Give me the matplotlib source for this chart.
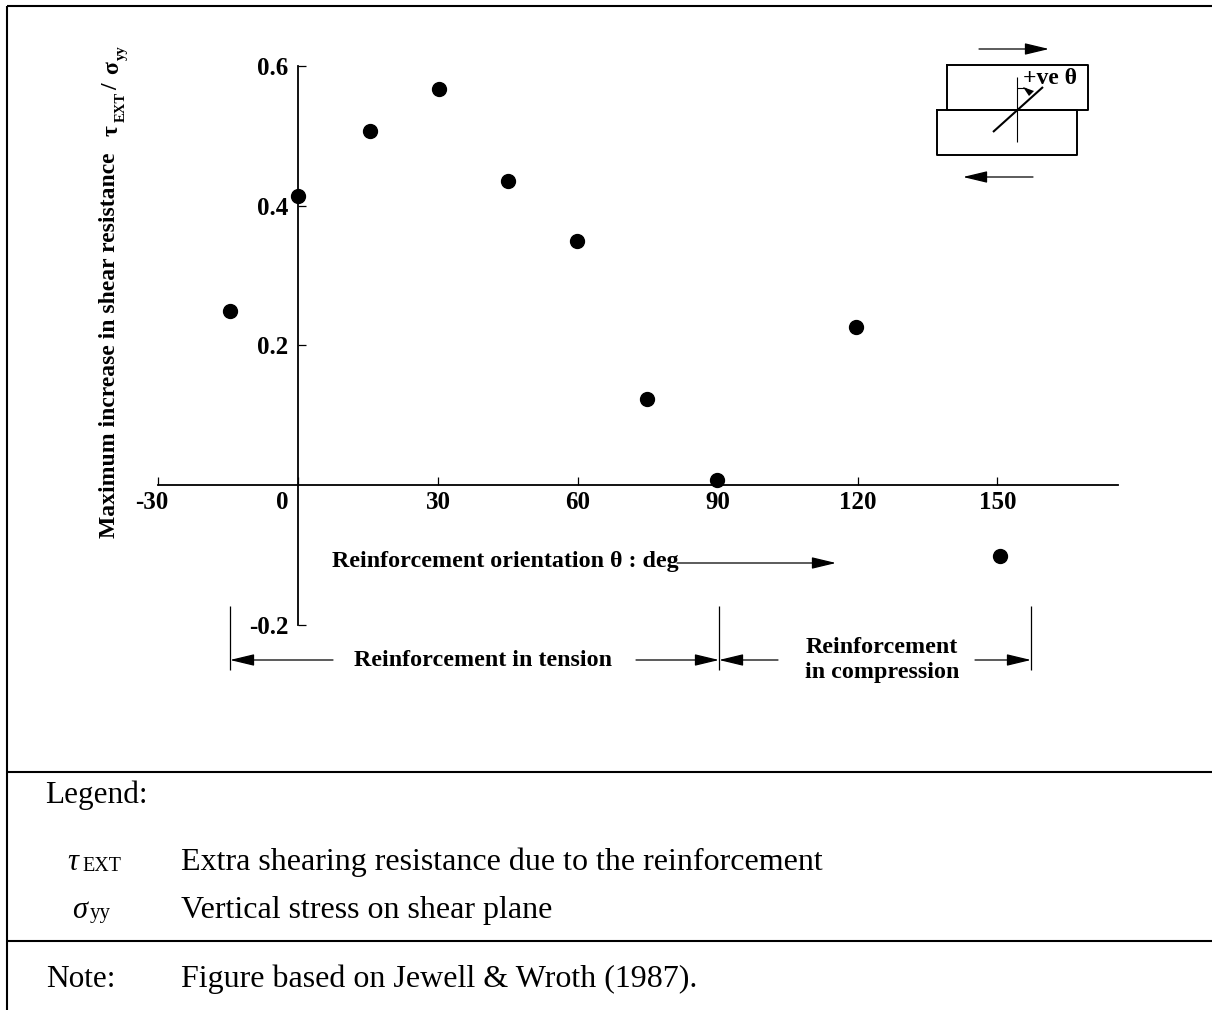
import matplotlib
matplotlib.use('Agg')
import matplotlib.pyplot as plt
from matplotlib.transforms import ScaledTranslation

plt.rcParams['font.family'] = ['Liberation Serif', 'DejaVu Serif']

W, H = 1212, 1010

theta = [-14.7, -0.1, 15.3, 30.2, 45.0, 59.8, 74.8, 89.8, 119.6, 150.5]
increase = [0.249, 0.414, 0.507, 0.567, 0.435, 0.349, 0.123, 0.007, 0.226, -0.102]
x_ticks = [-30, 0, 30, 60, 90, 120, 150]
y_ticks = [-0.2, 0.2, 0.4, 0.6]
y_labels = ['-0.2', '0.2', '0.4', '0.6']

fig = plt.figure(figsize=(W / 100, H / 100), dpi=100)

# overlay in pixel coords for the frame, table text and diagram
bg = fig.add_axes([0, 0, 1, 1])
bg.set_xlim(0, W)
bg.set_ylim(H, 0)
bg.axis('off')

def line(x0, y0, x1, y1, lw=1.0, color='black'):
    bg.plot([x0, x1], [y0, y1], color=color, lw=lw, solid_capstyle='butt')

def arrow(x0, x1, y):
    # thin shaft with a solid head at x1
    bg.annotate('', xy=(x1, y), xytext=(x0, y),
                arrowprops=dict(arrowstyle='-|>,head_length=1.5,head_width=0.36',
                                color='black', lw=0.9, shrinkA=0, shrinkB=0))

# frame
line(7, 6, 1212, 6, 1.5)
line(7, 6, 7, 1010, 1.5)
line(7, 772, 1212, 772, 1.5)
line(7, 941, 1212, 941, 1.5)

# main plot
ax = fig.add_axes([158.5 / W, 1 - 624.5 / H, (1118 - 158.5) / W, (624.5 - 66) / H])
ax.patch.set_alpha(0)
ax.set_xlim(-30, 175.9)
ax.set_ylim(-0.2, 0.6)
for s in ['top', 'right']:
    ax.spines[s].set_visible(False)
ax.spines['left'].set_position(('data', 0))
ax.spines['bottom'].set_position(('data', 0))
ax.spines['left'].set_linewidth(1.3)
ax.spines['bottom'].set_linewidth(1.3)
ax.plot(theta, increase, 'o', color='black', ms=10, clip_on=False, zorder=5)
ax.set_xticks(x_ticks)
ax.set_yticks(y_ticks)
ax.set_xticklabels([str(t) for t in x_ticks], fontsize=18, fontweight='bold')
ax.set_yticklabels(y_labels, fontsize=18, fontweight='bold')
ax.tick_params(axis='x', length=5.5, width=0.9, direction='in', pad=4.5)
ax.tick_params(axis='y', length=6, width=0.9, direction='in', pad=7)
# -30 and 0 sit left of their ticks
for lab, dx in zip(ax.get_xticklabels()[:2], [-5, -11.5]):
    lab.set_transform(lab.get_transform() + ScaledTranslation(dx / 72, 0, fig.dpi_scale_trans))

# y label, built from pieces so the subscripts can be sized
bg.text(110, 538, 'Maximum increase in shear resistance', rotation=90, ha='center', va='bottom',
        fontsize=17, fontweight='bold')
bg.text(112, 136, '\u03c4', rotation=90, ha='center', va='bottom', fontsize=17, fontweight='bold')
bg.text(121, 122, 'EXT', rotation=90, ha='center', va='bottom', fontsize=10.5, fontweight='bold')
bg.text(112, 90, '/', rotation=90, ha='center', va='bottom', fontsize=17, fontweight='bold')
bg.text(113, 74, '\u03c3', rotation=90, ha='center', va='bottom', fontsize=17, fontweight='bold')
bg.text(121, 60, 'yy', rotation=90, ha='center', va='bottom', fontsize=10.5, fontweight='bold')

# x label with arrow
bg.text(332, 562, 'Reinforcement orientation \u03b8 : deg', ha='left', va='center',
        fontsize=17.25, fontweight='bold')
arrow(677, 836, 563)

# extents below the axis
for px in [230, 719, 1031]:
    line(px, 606, px, 670, 0.9)
arrow(333, 230, 660)
arrow(636, 719, 660)
arrow(778, 719, 660)
arrow(975, 1031, 660)
bg.text(483, 660, 'Reinforcement in tension', ha='center', va='center', fontsize=17.25, fontweight='bold')
bg.text(882, 660, 'Reinforcement\nin compression', ha='center', va='center', fontsize=17.25,
        fontweight='bold', linespacing=1.25)

# shear box diagram
bg.plot([947, 1088, 1088, 947, 947], [65, 65, 110, 110, 65], color='black', lw=1.4)
bg.plot([937, 1077, 1077, 937, 937], [110, 110, 155, 155, 110], color='black', lw=1.4)
line(1017, 77, 1017, 142, 0.8)
line(993, 132, 1043, 87, 1.5)
line(1017, 88, 1026, 88, 0.8)
bg.fill([1023, 1034, 1029], [87, 91, 96], color='black', lw=0)
bg.text(1023, 78, '+ve \u03b8', ha='left', va='center', fontsize=17, fontweight='bold')
arrow(979, 1049, 49)
arrow(1033, 963, 177)

# legend and note
bg.text(45, 803, 'Legend:', ha='left', va='baseline', fontsize=22.5)
bg.text(67, 870, '\u03c4', ha='left', va='baseline', fontsize=22, style='italic')
bg.text(82, 871, 'EXT', ha='left', va='baseline', fontsize=14.5)
bg.text(72, 918, '\u03c3', ha='left', va='baseline', fontsize=22, style='italic')
bg.text(90, 918, 'yy', ha='left', va='baseline', fontsize=15)
bg.text(181, 870, 'Extra shearing resistance due to the reinforcement', ha='left', va='baseline', fontsize=23)
bg.text(181, 918, 'Vertical stress on shear plane', ha='left', va='baseline', fontsize=23)
bg.text(46, 987, 'Note:', ha='left', va='baseline', fontsize=22.5)
bg.text(181, 987, 'Figure based on Jewell & Wroth (1987).', ha='left', va='baseline', fontsize=23)

fig.savefig('out.png', dpi=100)
